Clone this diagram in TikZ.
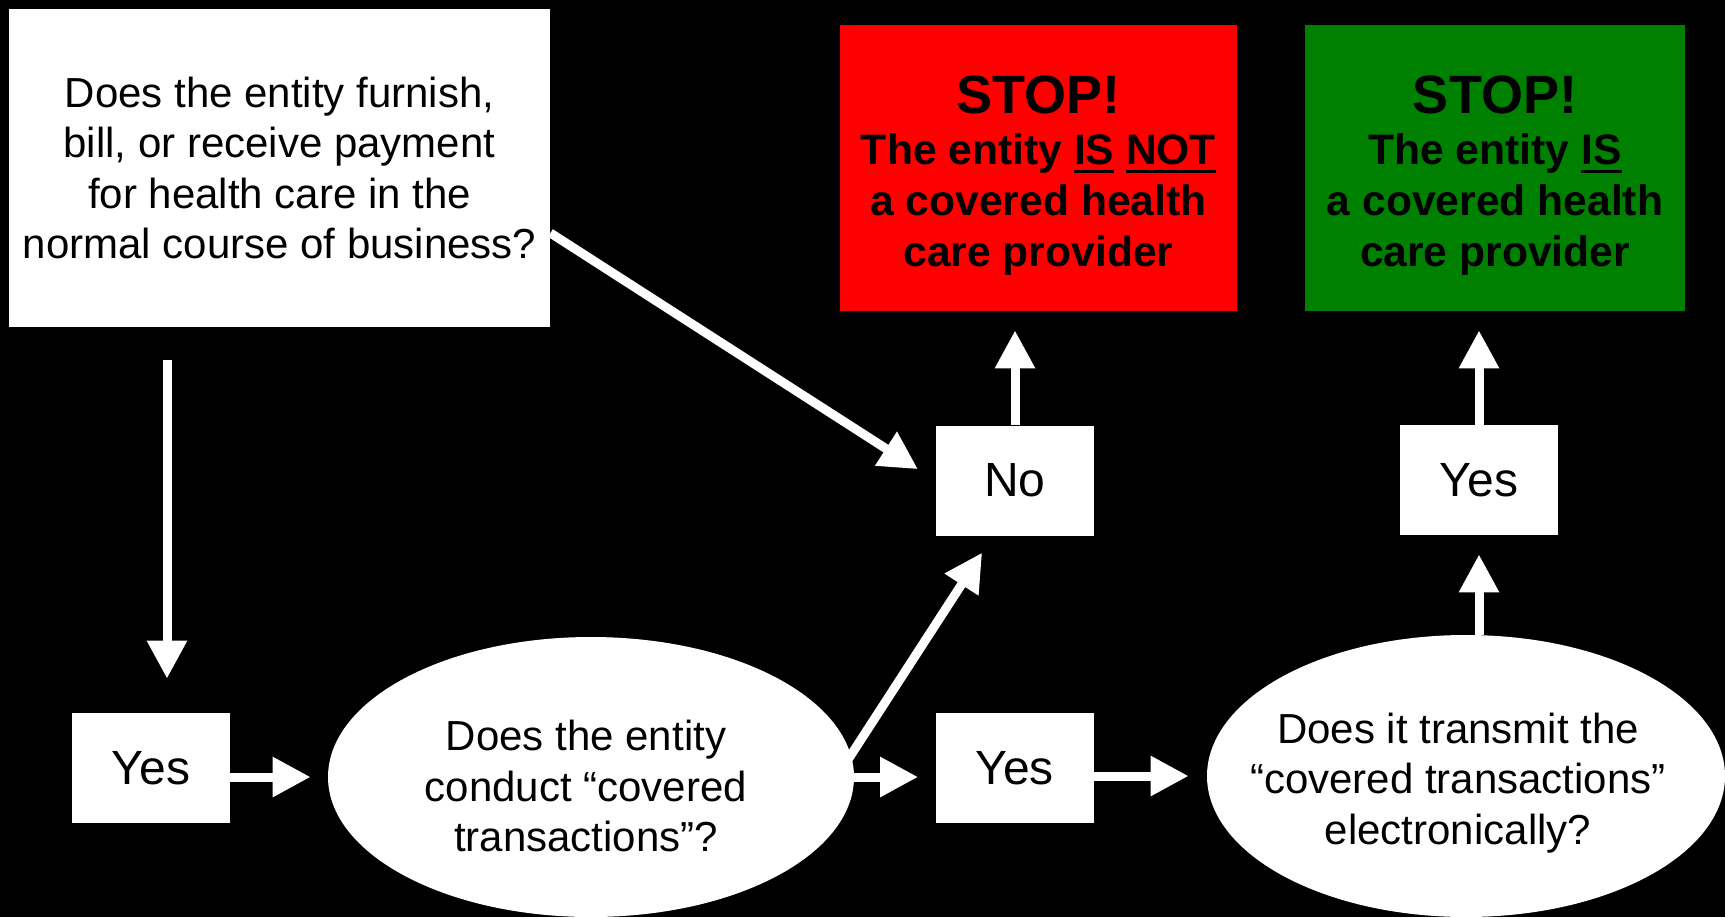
\documentclass[tikz,border=0pt]{standalone}
\usepackage{fontspec}
\setmainfont{Liberation Sans}
\usetikzlibrary{arrows.meta,shapes.geometric}
\definecolor{okgreen}{RGB}{0,128,0}
\newcommand{\thickul}[1]{\setbox0\hbox{#1}\rlap{\rule[-4pt]{\wd0}{1.5pt}}\box0\relax}
\newcommand{\trsp}{\hspace*{0.28em}}
\begin{document}
\begin{tikzpicture}[x=0.5pt,y=-0.5pt,
  txt/.style={font=\fontsize{21}{25.3}\selectfont, align=center, text=black, inner sep=0pt},
  whitebox/.style={txt, fill=white, draw=none, inner sep=0pt},
  ansbox/.style={fill=white, draw=none, inner sep=0pt, minimum width=79pt, minimum height=55pt, font=\fontsize{24}{28}\selectfont, text=black},
  stopbox/.style={draw=none, inner sep=0pt},
  stoptxt/.style={inner sep=0pt, align=center, text=black, font=\fontsize{21.3}{25.5}\selectfont\bfseries},
  qell/.style={ellipse, fill=white, draw=none, inner sep=0pt},
  arr/.style={draw=white, line width=4.5pt, -{Triangle[length=19pt,width=19pt]}}
]
\useasboundingbox (0,0) rectangle (1725,917);
\fill[black] (0,0) rectangle (1725,917);

\node[whitebox, minimum width=270.5pt, minimum height=159pt] (q) at (279.5,168)
  {Does the entity furnish,\\bill, or receive payment\\for health care in the\\normal course of business?};

\node[stopbox, fill=red, minimum width=198.5pt, minimum height=143pt,
  label={[stoptxt, yshift=-4pt]center:{{\fontsize{27}{30}\selectfont STOP!}\\The entity \thickul{IS} \thickul{NOT}\trsp\\a covered health\trsp\\care provider}}] (red) at (1038.5,168) {};
\node[stopbox, fill=okgreen, minimum width=190pt, minimum height=143pt,
  label={[stoptxt, yshift=-4pt]center:{{\fontsize{27}{30}\selectfont STOP!}\\The entity \thickul{IS}\\a covered health\trsp\\care provider}}] (green) at (1495,168) {};

\node[ansbox] (no) at (1015,480.5) {No};
\node[ansbox] (yes3) at (1479,480) {Yes};
\node[ansbox] (yes2) at (1014.5,768) {Yes};
\node[ansbox] (yes1) at (151,768) {Yes};

\node[qell, minimum width=263pt, minimum height=140pt,
  label={[txt, xshift=-2.5pt, yshift=-4.5pt]center:{Does the entity\\conduct “covered\\transactions”?}}] (e1) at (591,777) {};
\node[qell, minimum width=259pt, minimum height=141pt,
  label={[txt, xshift=-4pt, yshift=-3.5pt]center:{Does it transmit the\\“covered transactions”\\electronically?}}] (e2) at (1466,776) {};

\draw[arr] ([xshift=-56.25pt,yshift=-16.5pt]q.south) -- ([xshift=8pt,yshift=17pt]yes1.north);
\draw[arr, shorten >=8.5pt] ([yshift=-4.5pt]yes1.east) -- (e1.west);
\draw[arr, shorten >=8.5pt] (e1.east) -- (e1.east -| yes2.west);
\draw[arr, shorten >=9pt] (e2.west -| yes2.east) -- (e2.west);
\draw[arr, shorten >=9.5pt] (e2.north -| yes3.south) -- (yes3.south);
\draw[arr, shorten >=9.5pt] (yes3.north) -- (yes3.north |- green.south);
\draw[arr, shorten >=9.5pt] (no.north) -- (no.north |- red.south);
\draw[arr, shorten >=10.5pt] ([yshift=-32.5pt]q.east) -- (no.west);
\draw[arr, shorten >=10pt] ([shift={(-3pt,9pt)}]e1.east) -- ([xshift=-11pt]no.south);
\end{tikzpicture}
\end{document}
